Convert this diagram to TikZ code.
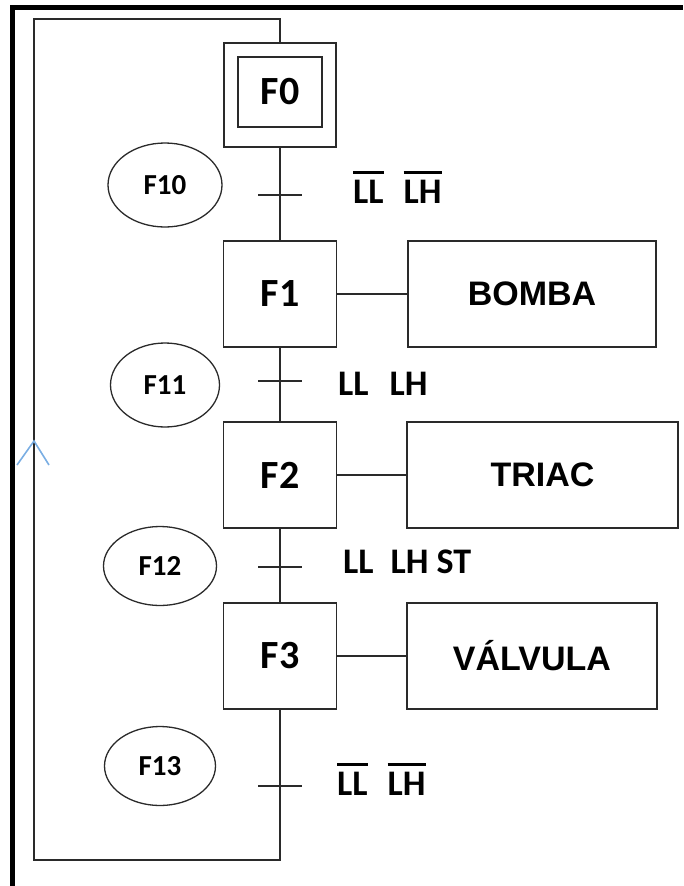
\documentclass[tikz,border=0pt]{standalone}
\usepackage{fontspec}
\setmainfont{Carlito}
\newfontfamily\actfont{Liberation Sans}
\usetikzlibrary{shapes.geometric}
\definecolor{ink}{HTML}{2A2A2A}
\definecolor{arrowblue}{HTML}{7AAEE3}
% negated signal: a heavy bar set above the letters
\newcommand{\negsig}[1]{\setbox0\hbox{#1}\rlap{\raisebox{29pt}{\rule{\wd0}{3pt}}}\box0}
\tikzset{
  line/.style={draw=ink, line width=1.4pt},
  stepbox/.style={draw=ink, line width=1.8pt, minimum width=113pt, minimum height=106pt,
    inner sep=0pt, font=\bfseries\fontsize{40}{44}\selectfont},
  initbox/.style={draw=ink, line width=1.8pt, minimum width=84pt, minimum height=70pt,
    inner sep=0pt, font=\bfseries\fontsize{40}{44}\selectfont},
  actbox/.style={draw=ink, line width=1.8pt, minimum height=106pt, inner sep=0pt,
    font=\actfont\bfseries\fontsize{34}{38}\selectfont},
  tag/.style={ellipse, draw=ink, line width=1.3pt, inner sep=0pt,
    font=\bfseries\fontsize{29}{32}\selectfont},
  cond/.style={anchor=base west, inner sep=0pt, font=\bfseries\fontsize{36}{40}\selectfont},
  frame/.style={draw=black, line width=5pt},
}
\begin{document}
\begin{tikzpicture}[x=1pt, y=-1pt]
  \useasboundingbox (0,0) rectangle (683,886);

  % heavy page frame on the left and top
  \draw[frame] (12.5,886) -- (12.5,7.5) -- (683,7.5);

  % initial step (double box)
  \node[stepbox, minimum width=112pt, minimum height=104pt] (F0) at (280,95) {};
  \node[initbox] (F0i) at (280,92) {F0};

  % steps
  \node[stepbox] (F1) at (280,294) {F1};
  \node[stepbox] (F2) at (280,475) {F2};
  \node[stepbox] (F3) at (280,656) {F3};

  % actions
  \node[actbox, minimum width=248pt] (A1) at (532,294) {BOMBA};
  \node[actbox, minimum width=271pt] (A2) at (542.5,475) {TRIAC};
  \node[actbox, minimum width=250pt] (A3) at (532,656) {VÁLVULA};

  \draw[line] (F1.east) -- (A1.west);
  \draw[line] (F2.east) -- (A2.west);
  \draw[line] (F3.east) -- (A3.west);

  % transition labels
  \node[tag, minimum width=114pt, minimum height=84pt] (E0) at (165,185) {F10};
  \node[tag, minimum width=109pt, minimum height=84pt] (E1) at (165,385) {F11};
  \node[tag, minimum width=113pt, minimum height=79pt] (E2) at (160,566) {F12};
  \node[tag, minimum width=111pt, minimum height=79pt] (E3) at (160,766) {F13};

  % main line and return loop
  \coordinate (br) at (280,860);
  \coordinate (bl) at (34,860);
  \coordinate (tl) at (34,19);
  \coordinate (tr) at (280,19);
  \draw[line] (F0.south) -- (F1.north);
  \draw[line] (F1.south) -- (F2.north);
  \draw[line] (F2.south) -- (F3.north);
  \draw[line] (F3.south) -- (br) -- (bl) -- (tl) -- (tr) -- (F0.north);

  % transition bars
  \coordinate (t0) at (280,195);
  \coordinate (t1) at (280,381);
  \coordinate (t2) at (280,567);
  \coordinate (t3) at (280,786);
  \foreach \t in {t0,t1,t2,t3}
    \draw[line] ([xshift=-22pt]\t) -- ([xshift=22pt]\t);

  % receptivities
  \node[cond] (c0) at (353,203) {\negsig{LL}\hspace{20pt}\negsig{LH}};
  \node[cond] (c1) at (338,395) {LL\hspace{21pt}LH};
  \node[cond] (c2) at (343,573) {LL\hspace{17pt}LH ST};
  \node[cond] (c3) at (337,795) {\negsig{LL}\hspace{20pt}\negsig{LH}};

  % direction mark on the return line
  \coordinate (up) at (34,441);
  \draw[arrowblue, line width=1.6pt] ([shift={(-17,24)}]up) -- (up) -- ([shift={(15,24)}]up);
\end{tikzpicture}
\end{document}
